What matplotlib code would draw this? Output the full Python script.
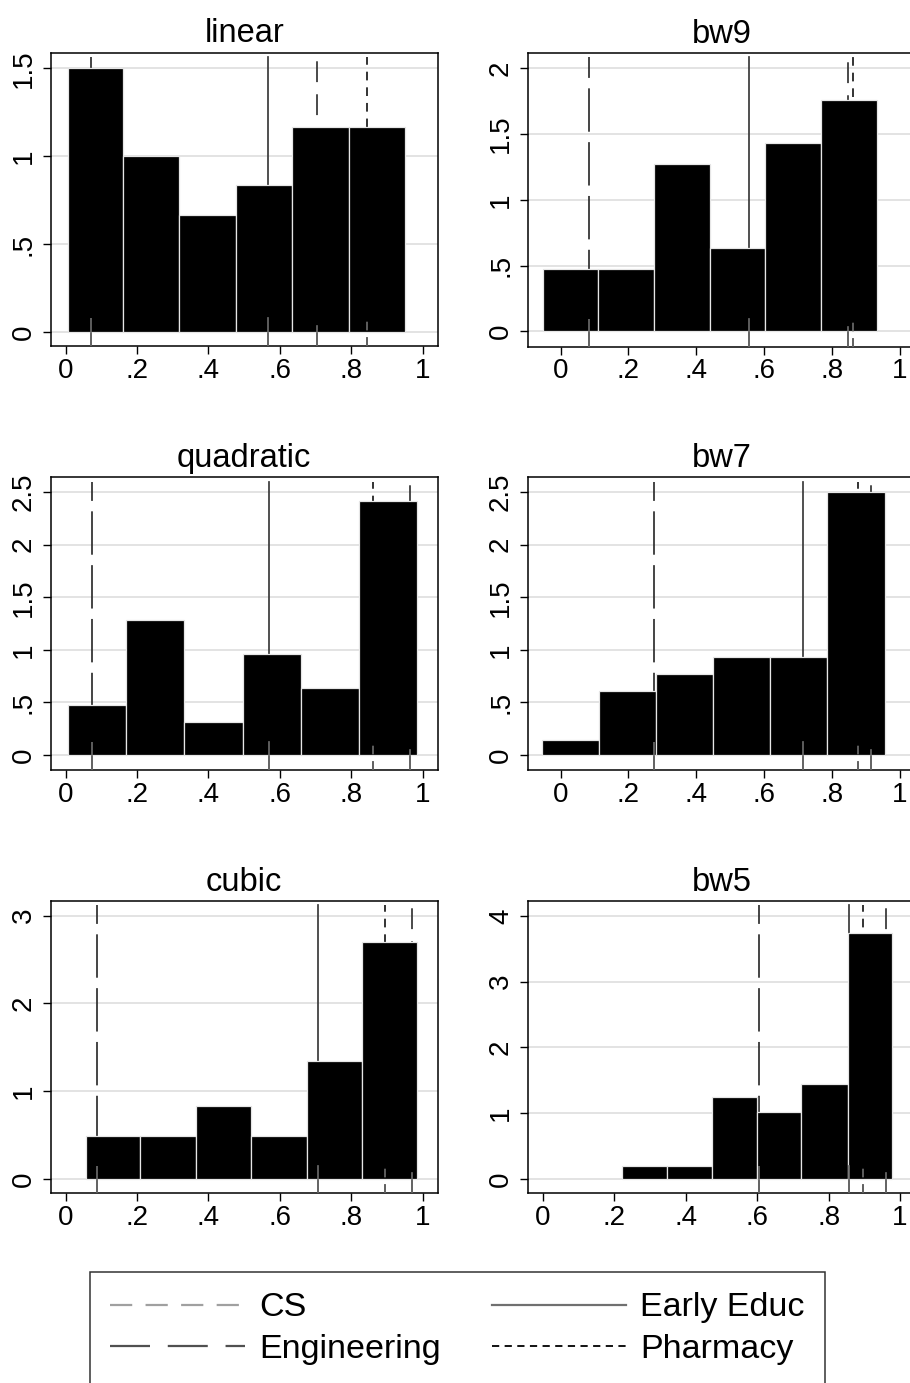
import matplotlib
matplotlib.use("Agg")
import matplotlib.pyplot as plt
from matplotlib.lines import Line2D

plt.rcParams['font.family'] = ['Liberation Sans', 'DejaVu Sans']

# ---------------- data ----------------
panel_titles = ["linear", "bw9", "quadratic", "bw7", "cubic", "bw5"]

linear_edges = [0.006, 0.160, 0.318, 0.476, 0.635, 0.793, 0.950]
linear_heights = [1.5, 1.0, 0.667, 0.833, 1.167, 1.167]

bw9_edges = [-0.052, 0.110, 0.274, 0.439, 0.603, 0.768, 0.932]
bw9_heights = [0.475, 0.475, 1.27, 0.633, 1.43, 1.76]

quadratic_edges = [0.007, 0.169, 0.332, 0.496, 0.659, 0.822, 0.985]
quadratic_heights = [0.476, 1.285, 0.311, 0.958, 0.635, 2.42]

bw7_edges = [-0.054, 0.113, 0.282, 0.450, 0.618, 0.786, 0.955]
bw7_heights = [0.145, 0.612, 0.771, 0.930, 0.930, 2.50]

cubic_edges = [0.056, 0.208, 0.364, 0.519, 0.675, 0.831, 0.985]
cubic_heights = [0.494, 0.494, 0.836, 0.494, 1.344, 2.697]

bw5_edges = [0.221, 0.347, 0.473, 0.599, 0.724, 0.853, 0.978]
bw5_heights = [0.197, 0.197, 1.240, 1.023, 1.443, 3.742]

# vertical reference lines: CS, Early Educ, Engineering, Pharmacy
cs_x = [0.703, 0.848, 0.964, 0.914, 0.971, 0.960]
early_educ_x = [0.566, 0.554, 0.569, 0.714, 0.708, 0.857]
engineering_x = [0.071, 0.0825, 0.0746, 0.275, 0.087, 0.606]
pharmacy_x = [0.843, 0.860, 0.860, 0.876, 0.894, 0.895]

x_ticks = [0, 0.2, 0.4, 0.6, 0.8, 1.0]
x_tick_labels = ["0", ".2", ".4", ".6", ".8", "1"]
y_ticks = [
    [0, 0.5, 1, 1.5],
    [0, 0.5, 1, 1.5, 2],
    [0, 0.5, 1, 1.5, 2, 2.5],
    [0, 0.5, 1, 1.5, 2, 2.5],
    [0, 1, 2, 3],
    [0, 1, 2, 3, 4],
]
y_tick_labels = [
    ["0", ".5", "1", "1.5"],
    ["0", ".5", "1", "1.5", "2"],
    ["0", ".5", "1", "1.5", "2", "2.5"],
    ["0", ".5", "1", "1.5", "2", "2.5"],
    ["0", "1", "2", "3"],
    ["0", "1", "2", "3", "4"],
]
legend_labels = ["CS", "Engineering", "Early Educ", "Pharmacy"]

edges_all = [linear_edges, bw9_edges, quadratic_edges, bw7_edges, cubic_edges, bw5_edges]
heights_all = [linear_heights, bw9_heights, quadratic_heights, bw7_heights,
               cubic_heights, bw5_heights]

# ---------------- layout ----------------
W, H = 910, 1383
fig = plt.figure(figsize=(W / 100, H / 100), dpi=100)

# axes boxes in pixels: (left, top, right, bottom)
boxes = [
    (50.7, 52.7, 437.7, 346.0),
    (528.0, 53.0, 915.0, 346.5),
    (50.7, 477.3, 437.7, 770.0),
    (528.0, 477.3, 915.0, 770.0),
    (50.7, 901.0, 437.7, 1193.3),
    (528.0, 901.0, 915.0, 1193.3),
]
xlims = [(-0.042, 1.042), (-0.096, 1.044), (-0.042, 1.042),
         (-0.096, 1.044), (-0.042, 1.042), (-0.042, 1.042)]
ylims = [(-0.081, 1.589), (-0.114, 2.114), (-0.143, 2.642),
         (-0.143, 2.642), (-0.163, 3.166), (-0.217, 4.225)]

line_styles = {
    "CS": dict(color="#333333", dashes=(12, 7)),
    "Early Educ": dict(color="#3a3a3a", linestyle="-"),
    "Engineering": dict(color="#2e2e2e", dashes=(25, 6)),
    "Pharmacy": dict(color="#1a1a1a", dashes=(5, 4)),
}

for i in range(6):
    l, t, r, b = boxes[i]
    ax = fig.add_axes([l / W, 1 - b / H, (r - l) / W, (b - t) / H])
    ax.set_xlim(*xlims[i])
    ax.set_ylim(*ylims[i])

    # grid
    for yv in y_ticks[i]:
        ax.axhline(yv, color="#e0e0e0", lw=1.3, zorder=0.5)

    edges = edges_all[i]
    heights = heights_all[i]
    lefts = edges[:-1]
    widths = [edges[k + 1] - edges[k] for k in range(len(heights))]
    ax.bar(lefts, heights, width=widths, align="edge", color="black",
           edgecolor="#e6e6e6", linewidth=0.9, zorder=2)

    xs = {"CS": cs_x[i], "Early Educ": early_educ_x[i],
          "Engineering": engineering_x[i], "Pharmacy": pharmacy_x[i]}
    for name, xv in xs.items():
        st = dict(line_styles[name])
        ax.axvline(xv, ymin=0, ymax=0.985, lw=1.25, zorder=1, **st)
        st2 = dict(st)
        st2["color"] = "#6a6a6a"
        ax.axvline(xv, ymin=0, ymax=0.095, lw=1.25, zorder=3, **st2)

    ax.set_xticks(x_ticks)
    ax.set_xticklabels(x_tick_labels)
    ax.set_yticks(y_ticks[i])
    ax.set_yticklabels(y_tick_labels[i], rotation=90, va="center")
    ax.tick_params(axis="both", labelsize=20, length=6, width=1.0, color="black")
    ax.tick_params(axis="x", pad=2.5)
    ax.tick_params(axis="y", pad=4)
    for sp in ax.spines.values():
        sp.set_linewidth(1.1)
        sp.set_color("black")
    ax.set_title(panel_titles[i], fontsize=23.5, pad=7.5)

# ---------------- legend ----------------
handles = [
    Line2D([], [], color="#a0a0a0", lw=1.6, dashes=(10, 6)),
    Line2D([], [], color="#505050", lw=1.6, dashes=(18, 8)),
    Line2D([], [], color="#707070", lw=1.6, linestyle="-"),
    Line2D([], [], color="#000000", lw=1.3, dashes=(4, 3)),
]
leg = fig.legend(handles, legend_labels, ncol=2, loc="upper left",
                 bbox_to_anchor=(90 / W, 1 - 1272 / H), fontsize=24.5,
                 frameon=True, fancybox=False, edgecolor="black",
                 handlelength=3.95, handletextpad=0.42, columnspacing=1.5,
                 labelspacing=0.3, borderpad=0.6, borderaxespad=0)
leg.get_frame().set_linewidth(1.1)

fig.savefig("out.png", dpi=100)
